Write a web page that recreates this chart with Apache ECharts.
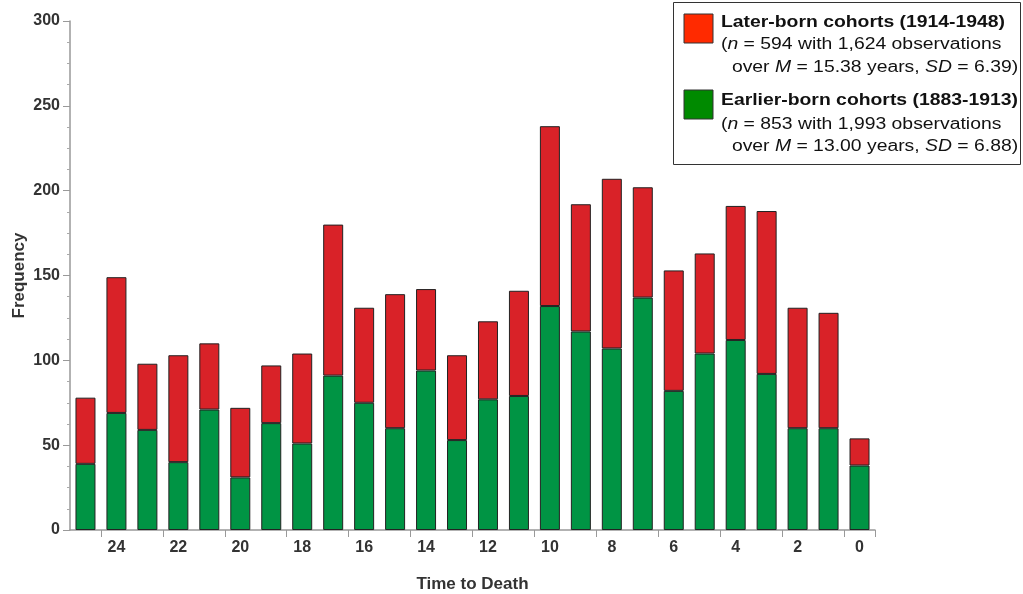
<!DOCTYPE html>
<html>
<head>
<meta charset="utf-8">
<script src="https://cdn.jsdelivr.net/npm/echarts@6/dist/echarts.min.js"></script>
<style>
  html, body { margin: 0; padding: 0; background: #fff; }
  #main { width: 1023px; height: 594px; }
</style>
</head>
<body>
<div id="main"></div>
<script>
// 数据：从 25 年到 0 年
var years = ['25','24','23','22','21','20','19','18','17','16','15','14','13','12','11','10','9','8','7','6','5','4','3','2','1','0'];
// 早出生组（绿色，下层）
var earlier = [39, 69, 59, 40, 71, 31, 63, 51, 91, 75, 60, 94, 53, 77, 79, 132, 117, 107, 137, 82, 104, 112, 92, 60, 60, 38];
// 总高度（红色顶部）
var totals = [78, 149, 98, 103, 110, 72, 97, 104, 180, 131, 139, 142, 103, 123, 141, 238, 192, 207, 202, 153, 163, 191, 188, 131, 128, 54];
// 晚出生组 = 总数 - 早出生组
var later = [];
for (var i = 0; i < totals.length; i++) {
  later.push(totals[i] - earlier[i]);
}

var myChart = echarts.init(document.getElementById('main'));

var fontFam = 'Arial, "Liberation Sans", Helvetica, sans-serif';
var italic = { i: { fontStyle: 'italic', fontSize: 16, fontFamily: fontFam, fill: '#111' } };

var option = {
  animation: false,
  grid: { left: 70, right: 148, top: 21, bottom: 64, outerBoundsMode: 'none', containLabel: false },
  xAxis: {
    type: 'category',
    data: years,
    name: 'Time to Death',
    nameLocation: 'middle',
    nameGap: 46,
    nameMoveOverlap: false,
    nameTextStyle: { fontFamily: fontFam, fontSize: 17, fontWeight: 'bold', color: '#333' },
    axisLine: { lineStyle: { color: '#999', width: 1.5 } },
    axisTick: { show: true, length: 7, lineStyle: { color: '#999' } },
    axisLabel: {
      interval: function (idx, val) { return Number(val) % 2 === 0; },
      fontFamily: fontFam, fontSize: 16, fontWeight: 'bold', color: '#333', margin: 10
    }
  },
  yAxis: {
    type: 'value',
    min: 0,
    max: 300,
    interval: 50,
    name: 'Frequency',
    nameLocation: 'middle',
    nameGap: 42,
    nameMoveOverlap: false,
    nameTextStyle: { fontFamily: fontFam, fontSize: 17, fontWeight: 'bold', color: '#333' },
    axisLine: { show: true, lineStyle: { color: '#999', width: 1.5 } },
    axisTick: { show: true, length: 7, lineStyle: { color: '#999' } },
    minorTick: { show: true, splitNumber: 4, length: 3, lineStyle: { color: '#aaa' } },
    splitLine: { show: false },
    axisLabel: { fontFamily: fontFam, fontSize: 16, fontWeight: 'bold', color: '#333', margin: 10 }
  },
  series: [
    {
      name: 'Earlier-born cohorts (1883-1913)',
      type: 'bar',
      stack: 'all',
      barWidth: 20,
      data: earlier,
      itemStyle: { color: '#009444', borderColor: '#222', borderWidth: 1 }
    },
    {
      name: 'Later-born cohorts (1914-1948)',
      type: 'bar',
      stack: 'all',
      barWidth: 20,
      data: later,
      itemStyle: { color: '#d92228', borderColor: '#222', borderWidth: 1 }
    }
  ],
  graphic: [
    {
      type: 'rect',
      shape: { x: 673.5, y: 2.5, width: 347, height: 162 },
      style: { fill: '#fff', stroke: '#333', lineWidth: 1 }
    },
    {
      type: 'rect',
      shape: { x: 684, y: 14, width: 29, height: 29 },
      style: { fill: '#ff2a00', stroke: '#333', lineWidth: 1 }
    },
    {
      type: 'rect',
      shape: { x: 684, y: 90, width: 29, height: 29 },
      style: { fill: '#008a00', stroke: '#333', lineWidth: 1 }
    },
    {
      // 图例文字，横向略拉宽以贴合原图
      type: 'group',
      x: 721,
      y: 0,
      scaleX: 1.21,
      children: [
        { type: 'text', x: 0, y: 22.5, style: { text: 'Later-born cohorts (1914-1948)', font: 'bold 16px ' + fontFam, fill: '#111', verticalAlign: 'middle' } },
        { type: 'text', x: 0, y: 44.5, style: { text: '({i|n} = 594 with 1,624 observations', font: '16px ' + fontFam, fill: '#111', verticalAlign: 'middle', rich: italic } },
        { type: 'text', x: 9, y: 67.5, style: { text: 'over {i|M} = 15.38 years, {i|SD} = 6.39)', font: '16px ' + fontFam, fill: '#111', verticalAlign: 'middle', rich: italic } },
        { type: 'text', x: 0, y: 101, style: { text: 'Earlier-born cohorts (1883-1913)', font: 'bold 16px ' + fontFam, fill: '#111', verticalAlign: 'middle' } },
        { type: 'text', x: 0, y: 124.5, style: { text: '({i|n} = 853 with 1,993 observations', font: '16px ' + fontFam, fill: '#111', verticalAlign: 'middle', rich: italic } },
        { type: 'text', x: 9, y: 146.5, style: { text: 'over {i|M} = 13.00 years, {i|SD} = 6.88)', font: '16px ' + fontFam, fill: '#111', verticalAlign: 'middle', rich: italic } }
      ]
    }
  ]
};

myChart.setOption(option);
</script>
</body>
</html>
